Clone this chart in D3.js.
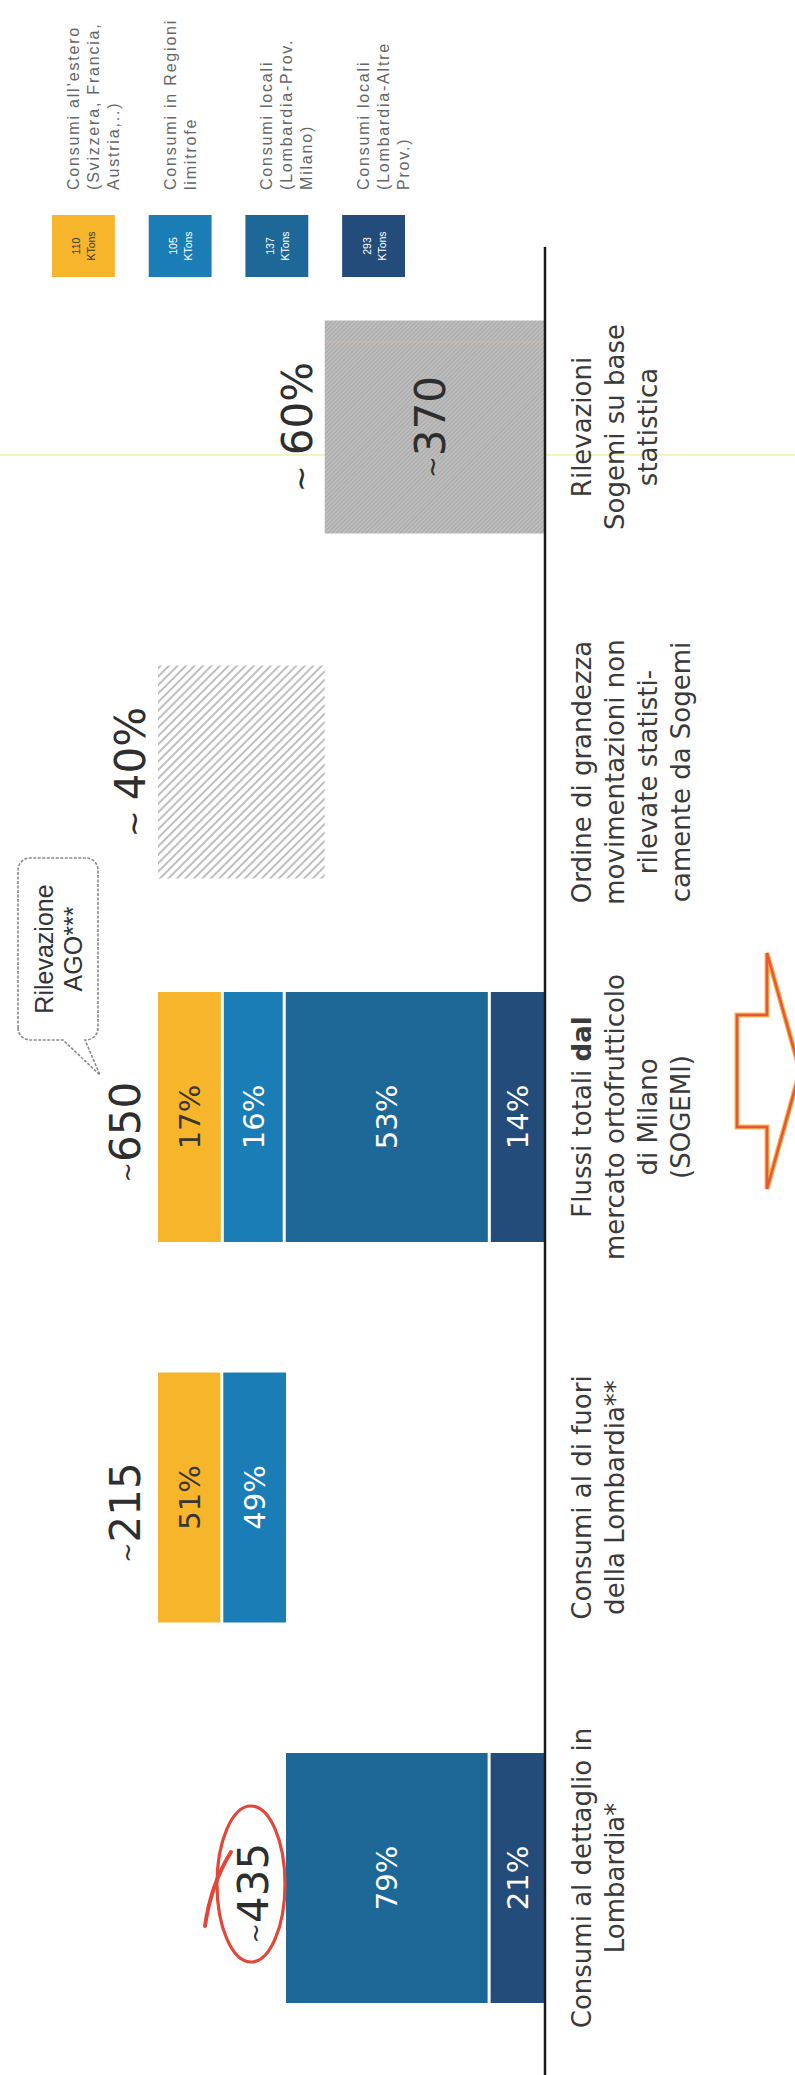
<!DOCTYPE html>
<html lang="it">
<head>
<meta charset="utf-8">
<title>Flussi ortofrutticoli - Milano</title>
<script src="https://cdn.jsdelivr.net/npm/d3@7/dist/d3.min.js"></script>
<style>
html,body{margin:0;padding:0;background:#ffffff;}
svg{display:block;}
</style>
</head>
<body>
<svg id="chart" width="795" height="2075"></svg>
<script>
// ---------------- DATA ----------------
const categoryLines = [
  ["Consumi al dettaglio in", "Lombardia*"],
  ["Consumi al di fuori", "della Lombardia**"],
  ["Flussi totali dal", "mercato ortofrutticolo", "di Milano", "(SOGEMI)"],
  ["Ordine di grandezza", "movimentazioni non", "rilevate statisti-", "camente da Sogemi"],
  ["Rilevazioni", "Sogemi su base", "statistica"]
];
const barTotals = [435, 215, 650, 280, 370];   // KTons
const barBases  = [0, 435, 0, 370, 0];         // waterfall start
const topLabels = ["~435", "~215", "~650", "~ 40%", "~ 60%"];
const innerLabels = ["", "", "", "", "~370"];

// shares (%) of the stacked bars (first three categories)
const seriesKeys = ["altre", "milano", "limitrofe", "estero"];
const shareAltre     = [21, 0, 14];
const shareMilano    = [79, 0, 53];
const shareLimitrofe = [0, 49, 16];
const shareEstero    = [0, 51, 17];

const legendOrder = ["estero", "limitrofe", "milano", "altre"];
const legendLines = [
  ["Consumi all\u2019estero", "(Svizzera, Francia,", "Austria,..)"],
  ["Consumi in Regioni", "limitrofe"],
  ["Consumi locali", "(Lombardia-Prov.", "Milano)"],
  ["Consumi locali", "(Lombardia-Altre", "Prov.)"]
];
const legendKTons = ["110", "105", "137", "293"];
const calloutLines = ["Rilevazione", "AGO***"];

// ---------------- STYLE / LAYOUT ----------------
const colors = {estero: "#F7B52B", limitrofe: "#1B7DB6", milano: "#1E6898", altre: "#244C7A"};
const textOn = {estero: "#3a3530", limitrofe: "#ffffff", milano: "#ffffff", altre: "#ffffff"};
const W = 2075, H = 795;          // landscape frame, rotated onto the page
const baseY = 545;
const SANS = "'DejaVu Sans', Verdana, sans-serif";
const ARIAL = "'Liberation Sans', Arial, sans-serif";

const svg = d3.select("#chart");
const defs = svg.append("defs");

const hatch = defs.append("pattern").attr("id", "hatch")
  .attr("patternUnits", "userSpaceOnUse").attr("width", 6).attr("height", 6)
  .attr("patternTransform", "rotate(-45)");
hatch.append("rect").attr("width", 6).attr("height", 6).attr("fill", "#ffffff");
hatch.append("line").attr("x1", 1).attr("y1", 0).attr("x2", 1).attr("y2", 6)
  .attr("stroke", "#a3a3a3").attr("stroke-width", 1.4);

const tex = defs.append("pattern").attr("id", "graytex")
  .attr("patternUnits", "userSpaceOnUse").attr("width", 3).attr("height", 3)
  .attr("patternTransform", "rotate(-45)");
tex.append("rect").attr("width", 3).attr("height", 3).attr("fill", "#bdbdbd");
tex.append("line").attr("x1", 0.5).attr("y1", 0).attr("x2", 0.5).attr("y2", 3)
  .attr("stroke", "#a9a9a9").attr("stroke-width", 1);

const g = svg.append("g").attr("transform", `translate(0,${W}) rotate(-90)`);

// scales
const pos = d3.scaleLinear().domain([0, 2, 4]).range([197, 958, 1648]);
const y = d3.scaleLinear().domain([0, 650]).range([baseY, 158]);
const bw = i => (i < 3 ? 250 : 213);

// faint scan line
g.append("line").attr("x1", pos(4) - 28).attr("x2", pos(4) - 28).attr("y1", 0).attr("y2", H)
  .attr("stroke", "#eef2a6").attr("stroke-width", 1.5);

// ---------------- STACKED BARS ----------------
const rows = [0, 1, 2].map(i => ({
  cat: i, base: barBases[i], total: barTotals[i],
  altre: shareAltre[i], milano: shareMilano[i], limitrofe: shareLimitrofe[i], estero: shareEstero[i]
}));
const stack = d3.stack().keys(seriesKeys).value((d, k) => d[k] * d.total / 100);
const layers = stack(rows);

layers.forEach(layer => {
  const key = layer.key;
  layer.forEach(seg => {
    const d = seg.data;
    if (seg[1] - seg[0] <= 0) return;
    const lo = d.base + seg[0], hi = d.base + seg[1];
    const gap = seg[0] > 0 ? 3 : 0;
    const yTop = y(hi), yBot = y(lo) - gap;
    const x0 = pos(d.cat) - bw(d.cat) / 2;
    g.append("rect").attr("x", x0).attr("y", yTop).attr("width", bw(d.cat))
      .attr("height", yBot - yTop).attr("fill", colors[key]);
    g.append("text").attr("x", pos(d.cat)).attr("y", (yTop + yBot) / 2).attr("dy", "0.36em")
      .attr("text-anchor", "middle").attr("font-family", SANS).attr("font-size", 29)
      .attr("fill", textOn[key]).text(d[key] + "%");
  });
});

// hatched (not recorded) bar
g.append("rect").attr("x", pos(3) - bw(3) / 2).attr("y", y(barBases[3] + barTotals[3]))
  .attr("width", bw(3)).attr("height", y(barBases[3]) - y(barBases[3] + barTotals[3]))
  .attr("fill", "url(#hatch)");

// gray (recorded) bar
g.append("rect").attr("x", pos(4) - bw(4) / 2).attr("y", y(barBases[4] + barTotals[4]))
  .attr("width", bw(4)).attr("height", y(barBases[4]) - y(barBases[4] + barTotals[4]))
  .attr("fill", "url(#graytex)");
g.append("line").attr("x1", pos(4) + 85).attr("x2", pos(4) + 85)
  .attr("y1", y(barBases[4] + barTotals[4])).attr("y2", baseY)
  .attr("stroke", "#d9b3ab").attr("stroke-width", 1);

// inner label of gray bar
innerLabels.forEach((lab, i) => {
  if (!lab) return;
  const mid = (y(barBases[i] + barTotals[i]) + y(barBases[i])) / 2;
  const t = g.append("text").attr("x", pos(i)).attr("y", mid + 10).attr("text-anchor", "middle")
    .attr("font-family", SANS).attr("font-size", 42).attr("fill", "#2e2e2e");
  t.append("tspan").attr("font-size", 26).attr("dy", -4).text(lab[0]);
  t.append("tspan").attr("dy", 4).text(lab.slice(1));
});

// axis baseline
g.append("line").attr("x1", 0).attr("x2", pos(4) + 180).attr("y1", baseY).attr("y2", baseY)
  .attr("stroke", "#1a1a1a").attr("stroke-width", 2.5);

// ---------------- TOTAL LABELS ----------------
topLabels.forEach((lab, i) => {
  const top = y(barBases[i] + barTotals[i]);
  const isPct = lab.includes("%");
  const t = g.append("text").attr("x", pos(i) + (isPct ? 0 : -15)).attr("y", top - (isPct ? 13 : 18))
    .attr("text-anchor", "middle").attr("font-family", SANS).attr("font-size", 42).attr("fill", "#2e2e2e");
  if (isPct) {
    t.append("tspan").attr("font-size", 32).text(lab.slice(0, 2));
    t.append("tspan").text(lab.slice(2));
  } else {
    t.append("tspan").attr("font-size", 24).attr("dy", -4).text(lab[0]);
    t.append("tspan").attr("dy", 4).text(lab.slice(1));
  }
});

// red hand-drawn ellipse around ~435
const ex = pos(0) - 6, ey = 251;
g.append("ellipse").attr("cx", ex).attr("cy", ey).attr("rx", 78).attr("ry", 34)
  .attr("fill", "none").attr("stroke", "#e2483a").attr("stroke-width", 3.2);
g.append("path").attr("d", `M${ex - 42},${ey - 46} Q${ex},${ey - 40} ${ex + 32},${ey - 20}`)
  .attr("fill", "none").attr("stroke", "#e2483a").attr("stroke-width", 4).attr("stroke-linecap", "round");

// ---------------- CATEGORY LABELS ----------------
categoryLines.forEach((lines, i) => {
  const t = g.append("text").attr("text-anchor", "middle").attr("font-family", SANS)
    .attr("font-size", 26).attr("fill", "#3a3a3a");
  lines.forEach((ln, j) => {
    const ts = t.append("tspan").attr("x", pos(i)).attr("y", 591 + j * 33);
    if (ln.endsWith(" dal")) {
      ts.text(ln.slice(0, -3));
      t.append("tspan").attr("font-weight", "bold").text("dal");
    } else {
      ts.text(ln);
    }
  });
});

// ---------------- CALLOUT ----------------
const cx0 = pos(2) + 77, cx1 = pos(2) + 259, cy0 = 18, cy1 = 98, r = 12;
const tipX = pos(2) + 42, tipY = 100;
g.append("path")
  .attr("d", `M${cx0 + r},${cy0} H${cx1 - r} A${r},${r} 0 0 1 ${cx1},${cy0 + r} V${cy1 - r}
    A${r},${r} 0 0 1 ${cx1 - r},${cy1} H${cx0 + r} A${r},${r} 0 0 1 ${cx0},${cy1 - r}
    V85 L${tipX},${tipY} L${cx0},63 V${cy0 + r} A${r},${r} 0 0 1 ${cx0 + r},${cy0} Z`)
  .attr("fill", "#ffffff").attr("stroke", "#8a8a8a").attr("stroke-width", 1.6)
  .attr("stroke-dasharray", "3,1.5");
const ct = g.append("text").attr("text-anchor", "middle").attr("font-family", ARIAL)
  .attr("font-size", 25).attr("fill", "#333");
calloutLines.forEach((ln, j) => {
  ct.append("tspan").attr("x", (cx0 + cx1) / 2).attr("y", 53 + j * 29).text(ln);
});

// ---------------- ARROW ----------------
const ax = pos(2) + 46;
g.append("path")
  .attr("d", `M${ax - 56},737 L${ax + 56},737 L${ax + 56},767 L${ax + 118},767 L${ax},800 L${ax - 118},767 L${ax - 56},767 Z`)
  .attr("fill", "#ffffff").attr("stroke", "#f3b94a").attr("stroke-width", 5).attr("stroke-linejoin", "miter");
g.append("path")
  .attr("d", `M${ax - 56},737 L${ax + 56},737 L${ax + 56},767 L${ax + 118},767 L${ax},800 L${ax - 118},767 L${ax - 56},767 Z`)
  .attr("fill", "none").attr("stroke", "#e8553c").attr("stroke-width", 2.6).attr("stroke-linejoin", "miter");

// ---------------- LEGEND ----------------
const leg = d3.scaleBand().domain(legendOrder).range([52, 405]).paddingInner(0.35);
legendOrder.forEach((k, i) => {
  const top = leg(k), h = leg.bandwidth();
  g.append("rect").attr("x", 1798).attr("y", top).attr("width", 62).attr("height", h).attr("fill", colors[k]);
  const st = g.append("text").attr("text-anchor", "middle").attr("font-family", ARIAL)
    .attr("font-size", 10.5).attr("fill", textOn[k]);
  st.append("tspan").attr("x", 1829).attr("y", top + h / 2 - 3).text(legendKTons[i]);
  st.append("tspan").attr("x", 1829).attr("y", top + h / 2 + 12).text("KTons");
  const lt = g.append("text").attr("font-family", ARIAL).attr("font-size", 16)
    .attr("letter-spacing", 1.8).attr("fill", "#666");
  legendLines[i].forEach((ln, j) => {
    lt.append("tspan").attr("x", 1885).attr("y", top + 27 + j * 20).text(ln);
  });
});
</script>
</body>
</html>
